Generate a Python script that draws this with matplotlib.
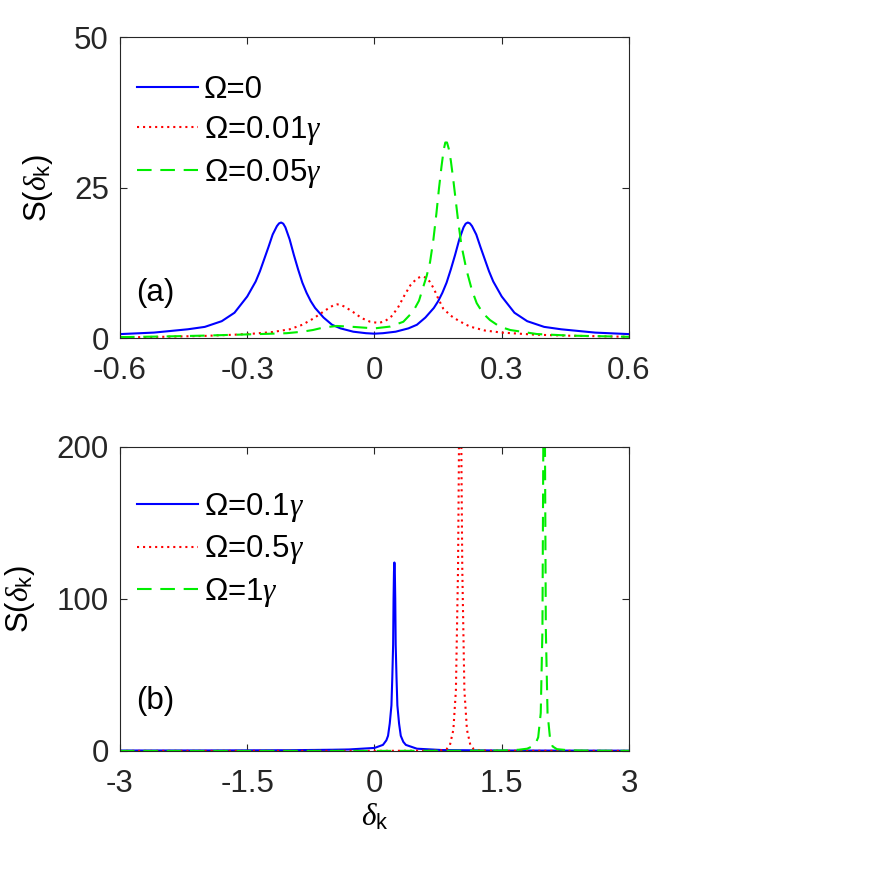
import matplotlib.pyplot as plt
import matplotlib as mpl

# panel (a): S(delta_k) for small Omega
xA0 = [-0.60, -0.52, -0.44, -0.40, -0.36, -0.33, -0.30, -0.28, -0.27, -0.26, -0.25, -0.24,
       -0.23, -0.225, -0.22, -0.215, -0.21, -0.20, -0.19, -0.18, -0.17, -0.16, -0.15, -0.14,
       -0.12, -0.10, -0.08, -0.05, -0.02, 0.0,
       0.02, 0.05, 0.08, 0.10, 0.12, 0.14, 0.15, 0.16, 0.17, 0.18, 0.19, 0.20, 0.21, 0.215,
       0.22, 0.225, 0.23, 0.24, 0.25, 0.26, 0.27, 0.28, 0.30, 0.33, 0.36, 0.40, 0.44, 0.52, 0.60]
yA0 = [0.65, 0.9, 1.45, 1.85, 2.8, 4.2, 6.9, 9.4, 11.1, 13.1, 15.1, 17.2,
       18.6, 19.05, 19.2, 19.0, 18.4, 16.4, 13.8, 11.4, 9.2, 7.5, 6.1, 5.0,
       3.4, 2.2, 1.6, 1.05, 0.8, 0.72,
       0.8, 1.05, 1.6, 2.2, 3.4, 5.0, 6.1, 7.5, 9.2, 11.4, 13.8, 16.4, 18.4, 19.0,
       19.2, 19.05, 18.6, 17.2, 15.1, 13.1, 11.1, 9.4, 6.9, 4.2, 2.8, 1.85, 1.45, 0.9, 0.65]

xA1 = [-0.60, -0.50, -0.40, -0.33, -0.28, -0.24, -0.20, -0.17, -0.145, -0.12, -0.105, -0.095,
       -0.088, -0.08, -0.07, -0.05, -0.03, -0.01, 0.01, 0.025, 0.04, 0.055, 0.07, 0.085,
       0.10, 0.108, 0.115, 0.122, 0.13, 0.14, 0.15, 0.162, 0.18, 0.20, 0.225, 0.26, 0.30,
       0.38, 0.46, 0.60]
yA1 = [0.1, 0.2, 0.35, 0.55, 0.75, 1.0, 1.45, 2.2, 3.2, 4.4, 5.1, 5.5,
       5.6, 5.5, 5.2, 4.3, 3.3, 2.7, 2.5, 2.8, 3.6, 5.0, 7.0, 8.8,
       9.9, 10.15, 10.2, 10.0, 9.4, 8.2, 6.6, 4.9, 3.7, 2.8, 1.9, 1.25, 0.9,
       0.55, 0.38, 0.2]

xA2 = [-0.60, -0.50, -0.40, -0.30, -0.25, -0.207, -0.17, -0.145, -0.12, -0.089, -0.06, -0.03,
       0.0, 0.037, 0.068, 0.091, 0.105, 0.115, 0.123, 0.131, 0.139, 0.146, 0.152, 0.158,
       0.163, 0.167, 0.171, 0.175, 0.18, 0.186, 0.192, 0.197, 0.205, 0.217, 0.23, 0.241,
       0.256, 0.272, 0.295, 0.32, 0.383, 0.46, 0.60]
yA2 = [0.15, 0.25, 0.4, 0.6, 0.7, 0.8, 1.05, 1.33, 1.75, 2.0, 1.9, 1.75,
       1.6, 1.9, 2.7, 4.4, 6.2, 8.5, 10.3, 12.6, 16.4, 20.7, 24.8, 28.5,
       31.2, 32.5, 32.5, 31.5, 29.5, 26.2, 22.6, 19.6, 15.4, 11.3, 7.9, 5.8,
       4.1, 3.0, 1.9, 1.33, 0.66, 0.4, 0.2]

# panel (b): larger Omega
xB0 = [-3.0, -2.0, -1.0, -0.5, -0.3, 0.0, 0.1, 0.14, 0.16, 0.18, 0.2, 0.21, 0.22, 0.225,
       0.23, 0.235, 0.24, 0.245, 0.25, 0.26, 0.27, 0.29, 0.31, 0.34, 0.37, 0.5, 0.8,
       1.5, 2.2, 3.0]
yB0 = [0.3, 0.35, 0.5, 0.8, 1.0, 2.0, 4.0, 7.0, 10.0, 18.0, 30.0, 48.0, 70.0, 100.0,
       118.0, 124.0, 118.0, 100.0, 70.0, 48.0, 30.0, 18.0, 10.0, 6.0, 4.0, 1.5, 0.6,
       0.3, 0.25, 0.2]

xB1 = [-3.0, -1.0, 0.0, 0.5, 0.7, 0.8, 0.85, 0.89, 0.93, 0.96, 0.985, 0.995, 1.0, 1.005,
       1.01, 1.015, 1.02, 1.025, 1.035, 1.06, 1.09, 1.13, 1.17, 1.22, 1.32, 1.6, 2.2, 3.0]
yB1 = [0.05, 0.08, 0.1, 0.15, 0.2, 0.5, 1.2, 4.0, 14.0, 40.0, 120.0, 190.0, 260.0, 330.0,
       400.0, 330.0, 260.0, 190.0, 120.0, 40.0, 14.0, 4.0, 1.2, 0.5, 0.2, 0.12, 0.08, 0.05]

xB2 = [-3.0, -1.0, 0.0, 1.0, 1.5, 1.7, 1.8, 1.86, 1.9, 1.93, 1.96, 1.98, 1.99, 2.0,
       2.01, 2.02, 2.04, 2.07, 2.1, 2.15, 2.3, 2.6, 3.0]
yB2 = [0.02, 0.03, 0.05, 0.15, 0.3, 0.8, 1.5, 3.0, 5.0, 9.0, 25.0, 80.0, 200.0, 500.0,
       200.0, 80.0, 25.0, 8.0, 3.0, 1.2, 0.4, 0.2, 0.1]

labelsA = ['Ω=0', 'Ω=0.01$\\gamma$', 'Ω=0.05$\\gamma$']
labelsB = ['Ω=0.1$\\gamma$', 'Ω=0.5$\\gamma$', 'Ω=1$\\gamma$']

FS = 22.5


def styleAxes(ax):
    ax.tick_params(direction='in', length=5, width=0.8, top=True, right=True,
                   colors='#262626', labelsize=FS)
    ax.tick_params(axis='x', pad=13)
    ax.tick_params(axis='y', pad=8)
    for s in ax.spines.values():
        s.set_color('#262626')
        s.set_linewidth(0.8)


def plotPanel(ax, curves, labels, xlim, ylim, xticks, yticks, tag, tagY, legY):
    styles = [('b', '-', None), ('r', ':', (1, 1.9)), ('#00ee00', '--', (7, 4.2))]
    for (x, y), lab, (c, ls, dash) in zip(curves, labels, styles):
        line, = ax.plot(x, y, color=c, ls=ls, lw=1.5, label=lab)
        if dash is not None:
            line.set_dashes(dash)
    ax.set_xlim(xlim)
    ax.set_ylim(ylim)
    ax.set_xticks(xticks)
    ax.set_yticks(yticks)
    ax.set_ylabel('S($\\delta_\\mathrm{k}$)', fontsize=FS, labelpad=14)
    ax.text(0.07, tagY, tag, transform=ax.transAxes, fontsize=FS, ha='center', va='center')
    ax.legend(loc='upper left', frameon=False, fontsize=FS, handlelength=1.95,
              handletextpad=0.2, labelspacing=0.3, borderpad=0, borderaxespad=0,
              bbox_to_anchor=(0.033, legY))
    styleAxes(ax)


if __name__ == '__main__':
    plt.rcParams['font.family'] = ['Liberation Sans', 'DejaVu Sans']
    plt.rcParams['mathtext.fontset'] = 'custom'
    plt.rcParams['mathtext.rm'] = 'Liberation Sans'
    plt.rcParams['mathtext.it'] = 'Liberation Serif:italic'
    plt.rcParams['legend.numpoints'] = 1

    fig = plt.figure(figsize=(8.86, 8.86), dpi=100)
    axA = fig.add_axes([0.1354, 0.6185, 0.5745, 0.3395])
    axB = fig.add_axes([0.1354, 0.1524, 0.5745, 0.3431])

    plotPanel(axA, [(xA0, yA0), (xA1, yA1), (xA2, yA2)], labelsA, (-0.6, 0.6), (0, 50),
              [-0.6, -0.3, 0, 0.3, 0.6], [0, 25, 50], '(a)', 0.15, 0.875)
    axA.set_xticklabels(['-0.6', '-0.3', '0', '0.3', '0.6'])

    plotPanel(axB, [(xB0, yB0), (xB1, yB1), (xB2, yB2)], labelsB, (-3, 3), (0, 200),
              [-3, -1.5, 0, 1.5, 3], [0, 100, 200], '(b)', 0.165, 0.855)
    axB.set_xticklabels(['-3', '-1.5', '0', '1.5', '3'])
    axB.set_xlabel('$\\delta_\\mathrm{k}$', fontsize=FS, labelpad=2)

    fig.savefig('out.png', dpi=100)
